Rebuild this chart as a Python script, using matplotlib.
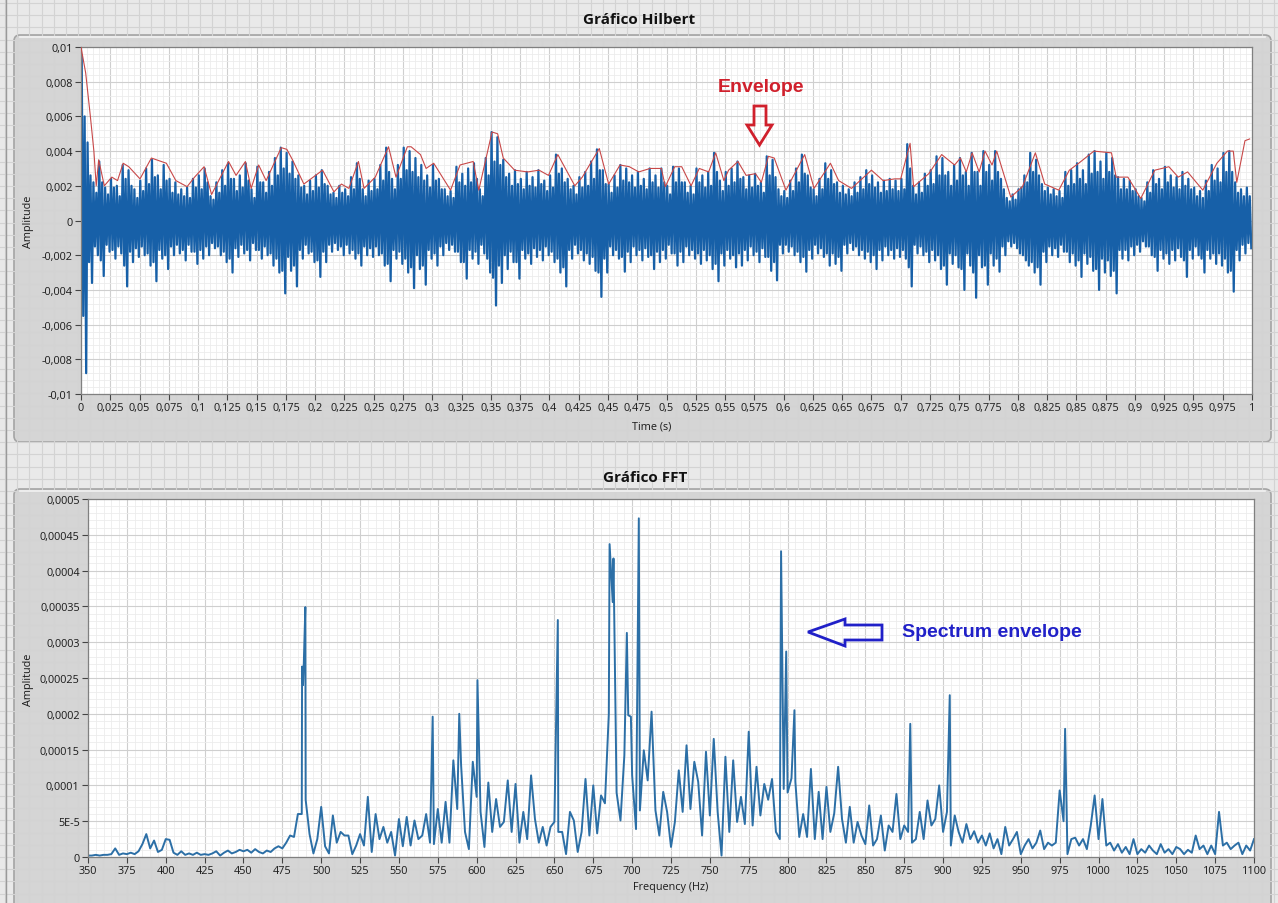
import matplotlib
matplotlib.use('Agg')
import matplotlib.pyplot as plt
import numpy as np
from matplotlib.patches import FancyBboxPatch, Polygon, Rectangle
from matplotlib.ticker import MultipleLocator

W, H = 1278, 904

# ---------------- Hilbert panel data (amplitude in units of 1e-3) ---------------- #
# per 5 ms bin: main upper/lower extremes plus a second, smaller swing
BIN_S = 0.005
sig_hi = [
    9.5, 4.5, 2.2, 3.4, 1.9, 2.4, 2.0, 3.2, 2.9, 1.8,
    2.3, 3.0, 3.5, 2.6, 3.2, 2.4, 2.2, 1.8, 1.9, 2.4,
    2.6, 3.0, 1.4, 2.2, 2.9, 3.3, 2.4, 2.6, 3.3, 1.8,
    3.1, 2.2, 2.8, 3.6, 4.2, 3.9, 3.4, 2.6, 2.0, 2.3,
    2.6, 2.9, 2.0, 1.6, 2.0, 1.8, 2.5, 3.3, 1.8, 2.3,
    2.4, 3.2, 4.2, 2.4, 3.2, 4.2, 4.0, 3.6, 3.2, 2.6,
    3.2, 2.4, 1.8, 1.7, 3.1, 2.7, 3.0, 3.3, 1.8, 3.6,
    5.1, 4.8, 3.5, 2.7, 2.9, 2.4, 2.8, 2.5, 2.9, 2.3,
    2.6, 3.8, 3.0, 2.4, 2.0, 2.5, 2.8, 3.4, 4.1, 2.9,
    2.1, 2.6, 3.2, 3.0, 2.6, 2.8, 2.4, 3.0, 2.6, 3.0,
    2.0, 3.1, 3.0, 2.2, 2.0, 3.0, 2.6, 2.8, 3.9, 2.3,
    2.8, 3.0, 3.4, 2.5, 2.6, 2.7, 2.2, 3.7, 3.5, 1.8,
    1.7, 2.3, 3.0, 3.8, 2.6, 1.8, 2.4, 3.3, 2.9, 2.2,
    2.0, 1.8, 2.2, 2.5, 2.9, 2.6, 2.2, 2.3, 2.4, 2.3,
    2.4, 4.4, 2.0, 2.2, 2.7, 2.9, 3.7, 3.6, 2.8, 3.2,
    3.6, 2.8, 3.9, 2.8, 4.0, 3.2, 4.0, 2.4, 1.3, 1.5,
    1.8, 2.6, 3.9, 3.5, 2.1, 1.9, 1.8, 1.7, 2.8, 2.9,
    3.3, 2.9, 3.8, 4.0, 3.4, 3.9, 3.6, 2.5, 2.4, 2.3,
    1.8, 1.3, 2.2, 2.9, 2.4, 3.1, 2.6, 2.5, 2.8, 2.4,
    1.9, 1.7, 2.3, 3.2, 3.0, 3.9, 4.0, 2.2, 1.8, 1.9,
]
sig_lo = [
    -8.8, -3.6, -2.0, -3.2, -1.8, -2.2, -1.9, -3.8, -2.4, -2.1,
    -2.0, -2.6, -3.5, -2.2, -2.8, -2.0, -1.9, -2.3, -1.8, -2.5,
    -2.2, -2.0, -1.6, -2.0, -2.4, -3.0, -2.1, -1.9, -2.3, -1.7,
    -2.2, -2.0, -2.6, -3.0, -4.2, -2.9, -3.8, -2.2, -1.9, -2.4,
    -3.25, -2.4, -1.8, -1.7, -2.0, -1.9, -2.2, -2.6, -2.0, -2.1,
    -2.0, -2.6, -3.5, -2.2, -2.5, -3.0, -3.9, -2.8, -3.7, -2.2,
    -2.6, -2.0, -1.7, -1.8, -2.4, -3.35, -2.2, -2.5, -1.9, -3.0,
    -4.9, -3.6, -2.8, -2.4, -3.35, -2.2, -2.5, -2.1, -2.3, -2.0,
    -2.4, -3.0, -3.8, -2.2, -1.9, -2.3, -2.5, -2.9, -4.4, -3.0,
    -2.0, -2.2, -2.95, -2.4, -2.0, -2.3, -2.1, -2.8, -2.4, -2.2,
    -1.9, -2.6, -2.4, -2.0, -2.2, -2.5, -2.3, -2.8, -3.5, -2.6,
    -2.2, -2.7, -2.6, -2.3, -2.0, -2.4, -2.1, -2.9, -3.45, -1.9,
    -1.8, -2.0, -2.4, -2.95, -2.2, -1.9, -2.1, -2.6, -2.5, -2.9,
    -1.9, -1.7, -2.0, -2.2, -2.4, -2.8, -2.3, -2.0, -2.2, -2.1,
    -2.2, -3.8, -1.9, -2.0, -2.4, -2.3, -2.8, -3.7, -2.5, -2.7,
    -4.0, -2.6, -4.45, -2.7, -3.7, -2.6, -2.95, -2.0, -1.5, -1.6,
    -2.0, -2.6, -3.0, -3.7, -2.4, -2.0, -2.1, -1.8, -2.4, -2.6,
    -3.25, -2.5, -2.9, -4.0, -3.0, -3.2, -4.2, -2.2, -2.3, -2.0,
    -1.8, -1.5, -2.0, -2.9, -2.2, -2.5, -2.3, -2.1, -3.25, -2.2,
    -2.0, -3.0, -2.2, -2.5, -2.6, -3.0, -4.1, -2.3, -1.9, -1.6,
]
sig_hi2 = [
    6.0, 2.6, 1.6, 2.2, 1.5, 1.9, 1.4, 2.4, 2.0, 1.3,
    1.7, 2.1, 2.5, 1.8, 2.3, 1.6, 1.5, 1.4, 1.3, 1.9,
    1.8, 2.2, 1.2, 1.6, 2.0, 2.4, 1.7, 1.9, 2.3, 1.3,
    2.2, 1.6, 2.0, 2.6, 3.0, 2.7, 2.4, 1.9, 1.5, 1.7,
    1.9, 2.1, 1.5, 1.3, 1.6, 1.4, 1.8, 2.4, 1.4, 1.7,
    1.8, 2.3, 2.8, 1.8, 2.4, 2.9, 2.8, 2.5, 2.3, 1.9,
    2.3, 1.8, 1.4, 1.3, 2.2, 2.0, 2.2, 2.4, 1.4, 2.6,
    3.4, 3.2, 2.5, 2.0, 2.1, 1.8, 2.0, 1.9, 2.1, 1.7,
    1.9, 2.7, 2.2, 1.8, 1.5, 1.9, 2.0, 2.4, 2.9, 2.1,
    1.6, 1.9, 2.3, 2.2, 1.9, 2.0, 1.8, 2.2, 1.9, 2.2,
    1.5, 2.2, 2.2, 1.6, 1.5, 2.2, 1.9, 2.0, 2.8, 1.7,
    2.0, 2.2, 2.4, 1.8, 1.9, 2.0, 1.6, 2.6, 2.5, 1.4,
    1.3, 1.7, 2.2, 2.7, 1.9, 1.4, 1.8, 2.4, 2.1, 1.6,
    1.5, 1.4, 1.6, 1.8, 2.1, 1.9, 1.6, 1.7, 1.8, 1.7,
    1.8, 3.0, 1.5, 1.6, 2.0, 2.1, 2.6, 2.6, 2.0, 2.3,
    2.6, 2.0, 2.8, 2.0, 2.8, 2.3, 2.8, 1.8, 1.1, 1.2,
    1.9, 2.2, 2.8, 2.6, 1.7, 1.5, 1.4, 1.3, 2.0, 2.1,
    2.4, 2.1, 2.7, 2.8, 2.4, 2.8, 2.6, 1.8, 1.8, 1.7,
    1.4, 1.1, 1.6, 2.1, 1.8, 2.2, 1.9, 1.8, 2.0, 1.8,
    1.4, 1.3, 1.7, 2.3, 2.2, 2.8, 2.8, 1.6, 1.4, 1.4,
]
sig_lo2 = [
    -5.5, -2.4, -1.5, -2.3, -1.4, -1.7, -1.5, -2.6, -1.8, -1.6,
    -1.5, -1.9, -2.4, -1.7, -2.0, -1.5, -1.4, -1.7, -1.4, -1.8,
    -1.7, -1.5, -1.3, -1.5, -1.8, -2.2, -1.6, -1.4, -1.7, -1.3,
    -1.7, -1.5, -1.9, -2.2, -2.9, -2.1, -2.6, -1.7, -1.4, -1.8,
    -2.3, -1.8, -1.4, -1.3, -1.5, -1.4, -1.7, -1.9, -1.5, -1.6,
    -1.5, -1.9, -2.5, -1.7, -1.8, -2.2, -2.7, -2.0, -2.6, -1.7,
    -1.9, -1.5, -1.3, -1.4, -1.8, -2.4, -1.7, -1.8, -1.4, -2.2,
    -3.3, -2.6, -2.0, -1.8, -2.4, -1.7, -1.9, -1.6, -1.7, -1.5,
    -1.8, -2.2, -2.7, -1.7, -1.4, -1.7, -1.9, -2.1, -3.0, -2.2,
    -1.5, -1.7, -2.1, -1.8, -1.5, -1.7, -1.6, -2.0, -1.8, -1.7,
    -1.4, -1.9, -1.8, -1.5, -1.7, -1.9, -1.7, -2.0, -2.5, -1.9,
    -1.7, -2.0, -1.9, -1.7, -1.5, -1.8, -1.6, -2.1, -2.4, -1.4,
    -1.4, -1.5, -1.8, -2.1, -1.7, -1.4, -1.6, -1.9, -1.9, -2.1,
    -1.4, -1.3, -1.5, -1.7, -1.8, -2.0, -1.7, -1.5, -1.7, -1.6,
    -1.7, -2.7, -1.4, -1.5, -1.8, -1.7, -2.0, -2.6, -1.9, -2.0,
    -2.8, -1.9, -3.0, -2.0, -2.6, -1.9, -2.2, -1.5, -1.2, -1.3,
    -1.9, -2.3, -2.4, -2.7, -1.8, -1.5, -1.6, -1.4, -1.8, -1.9,
    -2.3, -1.9, -2.1, -2.8, -2.2, -2.3, -2.9, -1.7, -1.7, -1.5,
    -1.4, -1.2, -1.5, -2.1, -1.7, -1.9, -1.7, -1.6, -2.3, -1.7,
    -1.5, -2.2, -1.7, -1.9, -1.9, -2.2, -2.9, -1.7, -1.4, -1.3,
]

env_t = [0.000, 0.004, 0.008, 0.011, 0.013, 0.0151, 0.0199, 0.0263, 0.0312, 0.0360,
         0.0408, 0.0504, 0.0601, 0.0729, 0.0810, 0.0906, 0.0970, 0.1051, 0.1115, 0.1260,
         0.1324, 0.1404, 0.1453, 0.1517, 0.1581, 0.1710, 0.1758, 0.1806, 0.1903, 0.2063,
         0.2160, 0.2224, 0.2288, 0.2369, 0.2417, 0.2513, 0.2626, 0.2690, 0.2787, 0.2819,
         0.2899, 0.2947, 0.3012, 0.3156, 0.3237, 0.3349, 0.3397, 0.3510, 0.3558, 0.3606,
         0.3703, 0.3815, 0.3912, 0.3992, 0.4072, 0.4217, 0.4281, 0.4426, 0.4506, 0.4603,
         0.4683, 0.4763, 0.4860, 0.4956, 0.499, 0.507, 0.513, 0.521, 0.528, 0.536,
         0.542, 0.549, 0.553, 0.561, 0.568, 0.576, 0.581, 0.587, 0.592, 0.602,
         0.618, 0.626, 0.640, 0.647, 0.658, 0.675, 0.685, 0.695, 0.700, 0.708,
         0.711, 0.724, 0.735, 0.746, 0.751, 0.756, 0.761, 0.767, 0.772, 0.778,
         0.782, 0.794, 0.804, 0.815, 0.823, 0.835, 0.844, 0.852, 0.865, 0.880,
         0.884, 0.894, 0.905, 0.917, 0.929, 0.937, 0.945, 0.958, 0.970, 0.979,
         0.984, 0.987, 0.994, 0.998]
env_v = [10.0, 8.5, 6.0, 4.0, 2.0, 3.5, 2.0, 2.5, 2.3, 3.3,
         3.1, 2.4, 3.6, 3.3, 2.3, 1.95, 2.5, 3.1, 1.5, 3.4,
         2.6, 3.4, 1.85, 3.2, 2.3, 4.2, 4.1, 3.5, 2.1, 2.9,
         1.65, 2.1, 1.85, 3.4, 1.85, 2.5, 4.25, 2.5, 4.25, 4.25,
         3.8, 3.0, 3.3, 1.75, 3.2, 3.4, 1.75, 5.1, 5.0, 3.6,
         2.9, 2.8, 2.9, 2.6, 3.8, 2.0, 2.5, 4.15, 2.1, 3.2,
         3.1, 2.8, 3.0, 3.0, 1.95, 3.1, 3.1, 2.0, 3.0, 2.8,
         3.9, 2.3, 2.9, 3.4, 2.6, 2.7, 2.2, 3.7, 3.6, 1.75,
         3.8, 1.85, 3.3, 2.3, 1.85, 2.9, 2.3, 2.4, 2.4, 4.45,
         1.95, 2.7, 3.8, 3.2, 3.6, 2.8, 3.9, 2.8, 4.0, 3.2,
         4.0, 1.35, 1.95, 3.9, 2.1, 1.75, 2.9, 3.3, 4.0, 3.9,
         2.5, 2.5, 1.27, 2.9, 3.1, 2.5, 2.8, 1.75, 3.3, 4.0,
         4.0, 2.2, 4.6, 4.7]

t_ticks = np.arange(0, 1.0001, 0.025)
amp_ticks = np.arange(-0.01, 0.01001, 0.002)

# ---------------- FFT panel data (amplitude in units of 1e-5) ---------------- #
FFT_START, FFT_STEP = 350, 2.5
fft_base = [
    0.2, 0.2, 0.3, 0.2, 0.3, 0.3, 0.4, 1.2, 0.3, 0.5,      # 350
    0.4, 0.6, 0.4, 0.8, 1.8, 3.2, 1.2, 2.3, 0.7, 1.0,      # 375
    2.5, 2.4, 0.6, 0.3, 0.8, 0.3, 0.5, 0.3, 0.6, 0.3,      # 400
    0.4, 0.3, 0.5, 0.8, 0.2, 0.6, 0.9, 0.5, 0.7, 1.0,      # 425
    0.8, 1.0, 0.6, 1.1, 0.7, 0.5, 0.9, 0.7, 1.2, 1.5,      # 450
    1.2, 2.0, 3.0, 2.8, 6.0, 6.0, 8.0, 3.2, 0.5, 2.5,      # 475
    7.0, 1.5, 0.5, 5.8, 2.0, 3.5, 3.0, 3.0, 0.4, 1.6,      # 500
    3.2, 1.6, 8.4, 0.7, 6.0, 2.5, 4.2, 2.0, 3.5, 0.2,      # 525
    5.3, 1.5, 5.6, 1.6, 5.1, 2.5, 3.0, 6.0, 2.0, 1.8,      # 550
    6.7, 2.0, 7.7, 2.0, 13.5, 6.7, 12.8, 3.5, 1.1, 13.3,   # 575
    8.4, 6.3, 1.4, 10.4, 3.5, 8.1, 4.2, 4.9, 10.7, 3.5,    # 600
    10.2, 2.0, 6.3, 2.5, 11.4, 5.3, 2.0, 4.2, 1.6, 4.2,    # 625
    4.9, 3.5, 3.5, 0.4, 6.3, 5.1, 0.7, 3.5, 10.9, 3.0,     # 650
    10.0, 3.3, 8.6, 7.5, 20.0, 35.6, 9.0, 5.1, 14.2, 19.8, # 675
    11.4, 3.9, 6.5, 14.9, 10.7, 20.3, 6.5, 3.0, 9.1, 6.3,  # 700
    1.4, 4.9, 12.1, 6.3, 15.6, 6.7, 13.3, 10.5, 3.0, 14.7, # 725
    5.8, 16.5, 6.3, 0.2, 14.0, 3.5, 13.5, 4.9, 8.4, 4.6,   # 750
    17.5, 4.4, 12.6, 5.8, 10.2, 8.0, 10.9, 3.5, 2.5, 9.5,  # 775
    9.0, 11.0, 10.5, 2.8, 6.0, 2.8, 12.3, 2.5, 9.1, 2.5,   # 800
    9.8, 3.5, 6.1, 12.6, 5.3, 2.0, 7.0, 2.0, 4.9, 3.0,     # 825
    1.8, 7.2, 1.6, 2.5, 5.8, 0.9, 4.4, 3.5, 8.8, 2.5,      # 850
    4.4, 3.5, 2.0, 2.5, 6.3, 2.5, 7.9, 4.4, 5.3, 10.0,     # 875
    3.5, 6.3, 1.6, 5.8, 3.5, 2.0, 4.6, 2.5, 3.6, 2.0,      # 900
    3.0, 1.6, 3.3, 1.2, 2.5, 0.4, 4.2, 1.6, 2.5, 3.5,      # 925
    0.4, 1.6, 2.5, 1.2, 2.0, 3.7, 1.1, 2.0, 1.6, 2.0,      # 950
    9.3, 5.0, 0.4, 2.5, 2.7, 1.6, 2.5, 1.1, 4.4, 8.6,      # 975
    2.5, 8.1, 1.6, 2.0, 0.9, 1.8, 0.6, 1.4, 0.4, 2.5,      # 1000
    0.4, 1.1, 0.6, 1.6, 0.9, 0.4, 1.8, 0.6, 1.1, 0.4,      # 1025
    1.4, 1.1, 0.4, 1.0, 0.6, 3.0, 1.1, 1.6, 0.4, 1.6,      # 1050
    0.4, 6.3, 1.6, 2.0, 1.1, 1.6, 2.0, 0.4, 1.6, 0.9,      # 1075
    2.5,                                                   # 1100
]
# narrow spectral lines between the grid points
peak_f = [487.7, 488.3, 488.8, 489.8, 571.7, 588.8, 600.5, 652.2, 685.5, 688.0,
          696.6, 699.2, 704.3, 795.8, 799.1, 804.4, 878.9, 904.3, 978.5]
peak_a = [26.6, 24.0, 27.0, 34.9, 19.6, 20.0, 24.7, 33.1, 43.7, 41.7,
          31.3, 19.6, 47.3, 42.7, 28.7, 20.5, 18.6, 22.6, 17.9]

f_ticks = list(range(350, 1101, 25))
fft_yticks = [0, 5e-5, 1e-4, 1.5e-4, 2e-4, 2.5e-4, 3e-4, 3.5e-4, 4e-4, 4.5e-4, 5e-4]
fft_ylabels = ['0', '5E-5', '0,0001', '0,00015', '0,0002', '0,00025', '0,0003',
               '0,00035', '0,0004', '0,00045', '0,0005']

# ---------------- styling ---------------- #
SIG_BLUE = '#1760a8'
FFT_BLUE = '#2c6fa6'
ENV_RED = '#c84848'
TICK_FONT = 'Open Sans'
TICK_SIZE = 7.8


def comma(v):
    v = round(float(v), 6)
    if abs(v) < 1e-12:
        return '0'
    s = f"{v:.4f}".rstrip('0').rstrip('.')
    return s.replace('.', ',')


def box(x0, y0, x1, y1):
    return [x0 / W, 1 - y1 / H, (x1 - x0) / W, (y1 - y0) / H]


def style_axes(ax):
    ax.set_facecolor('white')
    ax.grid(which='major', color='#cfcfcf', lw=0.8)
    ax.grid(which='minor', color='#ececec', lw=0.6)
    ax.set_axisbelow(True)
    for s in ax.spines.values():
        s.set_color('#808080')
        s.set_linewidth(0.9)
    ax.tick_params(which='major', direction='out', length=4, width=0.8, color='#444444',
                   labelsize=TICK_SIZE, pad=2, labelcolor='#1a1a1a')
    ax.tick_params(which='minor', length=0)
    for lab in ax.get_xticklabels() + ax.get_yticklabels():
        lab.set_fontfamily(TICK_FONT)


fig = plt.figure(figsize=(W / 100, H / 100), dpi=100)

# LabVIEW-like gridded front panel
bg = fig.add_axes([0, 0, 1, 1])
bg.set_xlim(0, W)
bg.set_ylim(H, 0)
bg.axis('off')
bg.add_patch(Rectangle((0, 0), W, H, fc='#e9e9e9', ec='none'))
for x in np.arange(5, W, 12.2):
    bg.plot([x, x], [0, H], color='#d3d3d3', lw=0.8)
for y in np.arange(4, H, 12.2):
    bg.plot([0, W], [y, y], color='#d3d3d3', lw=0.8)
bg.plot([6, 6], [0, H], color='#9a9a9a', lw=1.0)

for (x0, y0, x1, y1) in [(14, 36, 1271, 443), (14, 490, 1271, 915)]:
    bg.add_patch(FancyBboxPatch((x0, y0), x1 - x0, y1 - y0,
                                boxstyle='round,pad=0,rounding_size=6',
                                fc='#d5d5d5', ec='#a4a4a4', lw=1.2))
    bg.plot([x0 + 6, x1 - 6], [y0 + 1.5, y0 + 1.5], color='#f2f2f2', lw=1.2)

bg.text(639, 20, 'Gráfico Hilbert', ha='center', va='center', fontsize=11,
        fontweight='bold', family=TICK_FONT, color='#111111')
bg.text(645, 478, 'Gráfico FFT', ha='center', va='center', fontsize=11,
        fontweight='bold', family=TICK_FONT, color='#111111')

# ---------------- top: Hilbert ---------------- #
ax1 = fig.add_axes(box(81, 48, 1252, 395))
k = np.arange(len(sig_hi)) * BIN_S
# within each bin: big upper swing, small lower, small upper, big lower
t_sig = np.column_stack([k + 0.0006, k + 0.0019, k + 0.0031, k + 0.0044]).ravel()
v_sig = np.column_stack([sig_hi, sig_lo2, sig_hi2, sig_lo]).ravel() * 1e-3
ax1.plot(t_sig, v_sig, color=SIG_BLUE, lw=1.6, zorder=2)
ax1.plot(env_t, np.array(env_v) * 1e-3, color=ENV_RED, lw=0.8, zorder=3)
ax1.set_xlim(0, 1)
ax1.set_ylim(-0.01, 0.01)
ax1.set_xticks(t_ticks)
ax1.set_xticklabels([comma(v) for v in t_ticks])
ax1.set_yticks(amp_ticks)
ax1.set_yticklabels([comma(v) for v in amp_ticks])
ax1.xaxis.set_minor_locator(MultipleLocator(0.005))
ax1.yaxis.set_minor_locator(MultipleLocator(0.0004))
style_axes(ax1)

# ---------------- bottom: FFT ---------------- #
ax2 = fig.add_axes(box(88, 500, 1254, 858))
f_base = FFT_START + FFT_STEP * np.arange(len(fft_base))
f_all = np.concatenate([f_base, peak_f])
a_all = np.concatenate([fft_base, peak_a]) * 1e-5
order = np.argsort(f_all, kind='stable')
ax2.plot(f_all[order], a_all[order], color=FFT_BLUE, lw=1.4, zorder=2)
ax2.set_xlim(350, 1100)
ax2.set_ylim(0, 0.0005)
ax2.set_xticks(f_ticks)
ax2.set_xticklabels([str(v) for v in f_ticks])
ax2.set_yticks(fft_yticks)
ax2.set_yticklabels(fft_ylabels)
ax2.xaxis.set_minor_locator(MultipleLocator(5))
ax2.yaxis.set_minor_locator(MultipleLocator(0.00001))
style_axes(ax2)

# ---------------- overlay: axis names, annotations ---------------- #
ov = fig.add_axes([0, 0, 1, 1])
ov.set_xlim(0, W)
ov.set_ylim(H, 0)
ov.axis('off')
ov.patch.set_alpha(0)

lab_kw = dict(fontsize=TICK_SIZE, family=TICK_FONT, color='#1a1a1a', ha='center', va='center')
ov.text(29, 222, 'Amplitude', rotation=90, **lab_kw)
ov.text(29, 680, 'Amplitude', rotation=90, **lab_kw)
ov.text(652, 427, 'Time (s)', **lab_kw)
ov.text(671, 888, 'Frequency (Hz)', **lab_kw)

RED = '#d0202c'
BLUE = '#2020c8'
ov.text(761, 87, 'Envelope', ha='center', va='center', fontsize=14,
        fontweight='bold', family='Liberation Sans', color=RED)
ov.add_patch(Polygon([(754, 107), (766, 107), (766, 126), (772, 126), (759.5, 146),
                      (747, 126), (754, 126)], closed=True, fill=False,
                     ec=RED, lw=2.0, joinstyle='miter'))
ov.text(992, 633, 'Spectrum envelope', ha='center', va='center', fontsize=14,
        fontweight='bold', family='Liberation Sans', color=BLUE)
ov.add_patch(Polygon([(808, 633), (845, 620), (845, 626), (882, 626), (882, 641),
                      (845, 641), (845, 647)], closed=True, fill=False,
                     ec=BLUE, lw=2.0, joinstyle='miter'))

fig.savefig('out.png', dpi=100)
